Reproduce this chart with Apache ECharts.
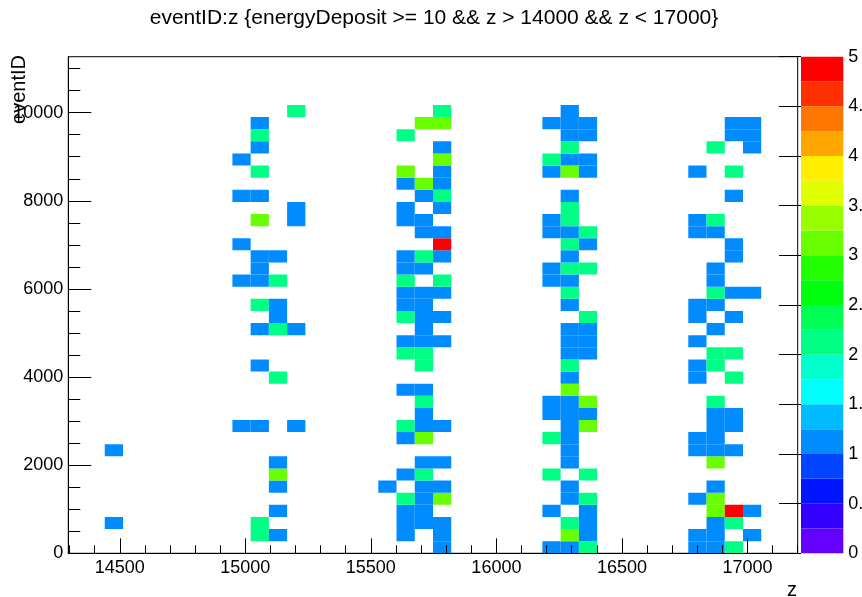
<!DOCTYPE html>
<html><head><meta charset="utf-8">
<script src="https://cdn.jsdelivr.net/npm/echarts@6/dist/echarts.min.js"></script>
<style>html,body{margin:0;padding:0;background:#fff}#c{width:862px;height:597px}</style>
</head><body><div id="c"></div>
<script>
// ---- histogram definition (TTree::Draw "eventID:z", 40 x bins) ----
const zMin = 14295, zMax = 17200, zBinCount = 40;
const eventMin = 0, eventBinWidth = 275, eventAxisMax = 11270;

// ---- tick labels ----
const xTickLabels = [14500, 15000, 15500, 16000, 16500, 17000];
const xMinorTicks = [14300,14400,14500,14600,14700,14800,14900,15000,15100,15200,15300,15400,15500,15600,15700,15800,15900,16000,16100,16200,16300,16400,16500,16600,16700,16800,16900,17000,17100,17200];
const yTickLabels = [0, 2000, 4000, 6000, 8000, 10000];
const yMinorTicks = [0,500,1000,1500,2000,2500,3000,3500,4000,4500,5000,5500,6000,6500,7000,7500,8000,8500,9000,9500,10000,10500,11000];
const paletteTickLabels = [0, 0.5, 1, 1.5, 2, 2.5, 3, 3.5, 4, 4.5, 5];
const paletteEdges = [0,0.25,0.5,0.75,1,1.25,1.5,1.75,2,2.25,2.5,2.75,3,3.25,3.5,3.75,4,4.25,4.5,4.75,5];

// ---- bin contents: for each z bin, [eventID bin, entries] ----
const zBinIndex = [2, 9, 10, 11, 12, 17, 18, 19, 20, 26, 27, 28, 34, 35, 36, 37];
const col02 = [[2,1],[8,1]];
const col09 = [[10,1],[22,1],[25,1],[29,1],[32,1]];
const col10 = [[1,2],[2,2],[10,1],[15,1],[18,1],[20,2],[22,1],[23,1],[24,1],[27,3],[29,1],[31,2],[33,1],[34,2],[35,1]];
const col11 = [[1,1],[3,1],[5,1],[6,3],[7,1],[14,2],[18,2],[19,1],[20,1],[22,2],[24,1]];
const col12 = [[10,1],[18,1],[27,1],[28,1],[36,2]];
const col17 = [[5,1]];
const col18 = [[1,1],[2,1],[3,1],[4,2],[6,1],[9,1],[10,2],[13,1],[16,2],[17,1],[19,2],[20,1],[21,1],[22,2],[23,1],[24,1],[27,1],[28,1],[30,1],[31,3],[34,2]];
const col19 = [[2,1],[3,1],[4,1],[5,1],[6,2],[7,1],[9,3],[10,1],[11,1],[12,2],[13,1],[15,2],[16,2],[17,1],[18,1],[19,1],[20,1],[21,1],[23,1],[24,2],[26,1],[27,1],[29,1],[30,3],[35,3]];
const col20 = [[0,1],[1,1],[2,1],[4,3],[5,1],[7,1],[10,1],[17,1],[19,1],[21,1],[22,2],[24,1],[25,5],[26,1],[28,1],[29,2],[30,1],[31,1],[32,3],[33,1],[35,3],[36,2]];
const col26 = [[0,1],[3,1],[6,2],[9,2],[11,1],[12,1],[22,1],[23,1],[26,1],[27,1],[31,1],[32,2],[35,1]];
const col27 = [[0,1],[1,3],[2,2],[4,1],[5,1],[7,1],[8,1],[9,1],[10,1],[11,1],[12,1],[13,3],[14,1],[15,2],[16,1],[17,1],[18,1],[20,1],[21,2],[22,1],[23,2],[24,1],[25,2],[26,1],[27,2],[28,2],[29,1],[31,3],[32,1],[33,2],[34,1],[35,1],[36,1]];
const col28 = [[0,2],[1,1],[2,1],[3,1],[4,2],[6,2],[10,3],[11,1],[12,3],[16,1],[17,1],[18,1],[19,2],[23,2],[25,1],[26,2],[31,1],[32,1],[34,1],[35,1]];
const col34 = [[0,1],[1,1],[4,1],[8,1],[9,1],[14,1],[15,1],[17,1],[19,1],[20,1],[26,1],[27,1],[31,1]];
const col35 = [[0,1],[1,1],[2,1],[3,3],[4,3],[5,1],[7,3],[8,1],[9,1],[10,1],[11,1],[12,2],[15,2],[16,2],[18,1],[20,1],[21,2],[22,1],[23,1],[26,1],[27,2],[33,2]];
const col36 = [[0,2],[2,2],[3,5],[8,1],[10,1],[11,1],[14,2],[16,2],[19,1],[21,1],[24,1],[25,1],[29,1],[31,2],[34,1],[35,1]];
const col37 = [[1,1],[3,1],[21,1],[33,1],[34,1],[35,1]];
const columns = [col02, col09, col10, col11, col12, col17, col18, col19, col20, col26, col27, col28, col34, col35, col36, col37];

// ---- ROOT "pretty" palette, 20 contour levels 0..5 ----
const palette = ['#6300FF','#3300FF','#0014FF','#0044FF','#008BFF','#00BBFF','#00FFFC','#00FFCC','#00FF85','#00FF55',
                 '#00FF0E','#22FF00','#69FF00','#99FF00','#E0FF00','#FFEE00','#FFA700','#FF7700','#FF3000','#FF0000'];

const zBinWidth = (zMax - zMin) / zBinCount;
function levelColor(v) {
  const lo = paletteEdges[0], hi = paletteEdges[paletteEdges.length - 1];
  let k = Math.floor((v - lo) / (hi - lo) * palette.length);
  if (k >= palette.length) k = palette.length - 1;
  if (k < 0) k = 0;
  return palette[k];
}

const cellData = [];
zBinIndex.forEach(function (ib, c) {
  columns[c].forEach(function (cell) {
    const z0 = zMin + ib * zBinWidth;
    const e0 = eventMin + cell[0] * eventBinWidth;
    cellData.push([z0, z0 + zBinWidth, e0, e0 + eventBinWidth, cell[1]]);
  });
});
const barData = [];
for (let k = 0; k < palette.length; k++) barData.push([0, 1, paletteEdges[k], paletteEdges[k + 1], k]);

const FONT = '"Liberation Sans", Arial, Helvetica, sans-serif';
const plain = function (v) { return String(v); };
const chart = echarts.init(document.getElementById('c'), null, {renderer: 'canvas'});

function rectItem(api, fill) {
  const p0 = api.coord([api.value(0), api.value(2)]);
  const p1 = api.coord([api.value(1), api.value(3)]);
  return {type: 'rect', shape: {x: p0[0], y: p1[1], width: p1[0] - p0[0], height: p0[1] - p1[1]},
          style: {fill: fill, stroke: null}};
}

chart.setOption({
  backgroundColor: '#fff',
  animation: false,
  grid: [
    {left: 68.3, top: 56.7, width: 729.4, height: 496.6, show: true, borderColor: '#000', borderWidth: 1,
     backgroundColor: 'transparent', containLabel: false, outerBoundsMode: 'none'},
    {left: 801, top: 56.7, width: 42.3, height: 496.6, show: false, containLabel: false, outerBoundsMode: 'none'}
  ],
  xAxis: [
    {type: 'value', gridIndex: 0, position: 'bottom', min: zMin, max: zMax, z: 10,
     axisLine: {show: true, lineStyle: {color: '#000', width: 1}},
     axisTick: {show: true, inside: true, length: 15, customValues: xTickLabels, lineStyle: {color: '#000'}},
     axisLabel: {show: true, customValues: xTickLabels, formatter: plain, margin: 6, fontSize: 18, fontFamily: FONT, color: '#000'},
     splitLine: {show: false}},
    {type: 'value', gridIndex: 0, position: 'bottom', min: zMin, max: zMax, z: 10,
     axisLine: {show: false},
     axisTick: {show: true, inside: true, length: 8, customValues: xMinorTicks, lineStyle: {color: '#000'}},
     axisLabel: {show: false}, splitLine: {show: false}},
    {type: 'value', gridIndex: 1, min: 0, max: 1, show: false}
  ],
  yAxis: [
    {type: 'value', gridIndex: 0, position: 'left', min: eventMin, max: eventAxisMax, z: 10,
     axisLine: {show: true, lineStyle: {color: '#000', width: 1}},
     axisTick: {show: true, inside: true, length: 23, customValues: yTickLabels, lineStyle: {color: '#000'}},
     axisLabel: {show: true, customValues: yTickLabels, formatter: plain, margin: 5, fontSize: 18, fontFamily: FONT, color: '#000'},
     splitLine: {show: false}},
    {type: 'value', gridIndex: 0, position: 'left', offset: 0, min: eventMin, max: eventAxisMax, z: 10,
     axisLine: {show: false},
     axisTick: {show: true, inside: true, length: 12, customValues: yMinorTicks, lineStyle: {color: '#000'}},
     axisLabel: {show: false}, splitLine: {show: false}},
    {type: 'value', gridIndex: 1, min: 0, max: 5, position: 'right', z: 10,
     axisLine: {show: false},
     axisTick: {show: true, inside: true, length: 22, customValues: paletteTickLabels, lineStyle: {color: '#000'}},
     axisLabel: {show: true, customValues: paletteTickLabels, formatter: plain, margin: 5, fontSize: 18, fontFamily: FONT, color: '#000'},
     splitLine: {show: false}}
  ],
  series: [
    {type: 'custom', xAxisIndex: 0, yAxisIndex: 0, z: 2, clip: true,
     encode: {x: [0, 1], y: [2, 3]}, data: cellData,
     renderItem: function (params, api) { return rectItem(api, levelColor(api.value(4))); }},
    {type: 'custom', xAxisIndex: 2, yAxisIndex: 2, z: 2,
     encode: {x: [0, 1], y: [2, 3]}, data: barData,
     renderItem: function (params, api) { return rectItem(api, palette[api.value(4)]); }}
  ],
  graphic: [
    {type: 'text', x: 434, y: 18, z: 100,
     style: {text: 'eventID:z {energyDeposit >= 10 && z > 14000 && z < 17000}', font: '21px ' + FONT, fill: '#000', textAlign: 'center', textVerticalAlign: 'middle'}},
    {type: 'text', x: 19, y: 55, rotation: Math.PI / 2, z: 100,
     style: {text: 'eventID', font: '20px ' + FONT, fill: '#000', textAlign: 'right', textVerticalAlign: 'middle'}},
    {type: 'text', x: 797, y: 590, z: 100,
     style: {text: 'z', font: '20px ' + FONT, fill: '#000', textAlign: 'right', textVerticalAlign: 'middle'}}
  ]
});
</script></body></html>
